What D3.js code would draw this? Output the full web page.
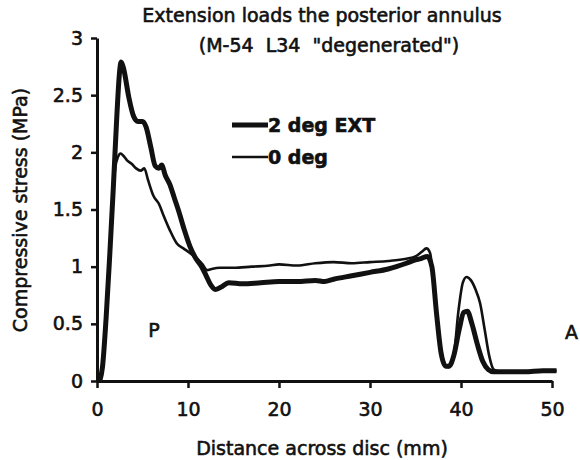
<!DOCTYPE html>
<html>
<head>
<meta charset="utf-8">
<script src="https://cdn.jsdelivr.net/npm/d3@7"></script>
<style>
  body { margin: 0; background: #fff; }
  svg { display: block; }
  text { font-family: "DejaVu Sans", Arial, sans-serif; fill: #111; stroke: #111; stroke-width: 0.6px; white-space: pre; }
</style>
</head>
<body>
<svg id="chart"></svg>
<script>
const width = 580, height = 460

// traced values, distance (mm) vs compressive stress (MPa)
const extDist   = [0.3, 0.6, 1.0, 1.4, 1.8, 2.2, 2.5, 2.65, 2.9, 3.5, 4.0, 4.5, 5.0, 5.4, 5.9, 6.4, 6.8, 7.1, 7.5, 8.0, 8.5, 9.0, 9.6, 10.2, 10.8, 11.5, 12.0, 12.5, 13.0, 13.6, 14.5, 16, 18, 20, 22, 24, 25, 26, 28, 30, 32, 34, 35, 35.6, 36.3, 36.8, 37.3, 37.8, 38.3, 38.7, 39.2, 39.8, 40.3, 40.7, 41.2, 41.8, 42.4, 43.0, 43.6, 45, 47, 49, 50.5]
const extStress = [0.0, 0.12, 0.55, 1.1, 1.7, 2.35, 2.72, 2.79, 2.74, 2.48, 2.32, 2.27, 2.27, 2.22, 2.05, 1.88, 1.86, 1.89, 1.80, 1.72, 1.60, 1.48, 1.32, 1.18, 1.08, 1.0, 0.92, 0.84, 0.80, 0.82, 0.86, 0.85, 0.86, 0.87, 0.87, 0.88, 0.87, 0.89, 0.92, 0.95, 0.98, 1.03, 1.06, 1.07, 1.09, 1.0, 0.6, 0.25, 0.13, 0.13, 0.22, 0.45, 0.60, 0.61, 0.50, 0.32, 0.17, 0.10, 0.08, 0.08, 0.08, 0.09, 0.09]

const zeroDist   = [0.3, 0.6, 1.0, 1.4, 1.75, 2.0, 2.3, 2.6, 2.9, 3.3, 3.8, 4.3, 4.8, 5.2, 5.6, 6.2, 6.8, 7.3, 8.0, 8.8, 9.5, 10.2, 11.0, 11.6, 12.1, 12.6, 13.5, 15, 17, 19, 20, 22, 24, 26, 28, 30, 32, 34, 35, 35.7, 36.2, 36.6, 37.0, 37.5, 38.0, 38.6, 39.2, 39.7, 40.2, 40.6, 41.1, 41.6, 42.1, 42.6, 43.1, 43.6, 44.5, 46, 48, 50.5]
const zeroStress = [0.0, 0.12, 0.55, 1.1, 1.62, 1.86, 1.96, 1.99, 1.97, 1.93, 1.90, 1.86, 1.84, 1.86, 1.76, 1.62, 1.55, 1.45, 1.32, 1.20, 1.16, 1.12, 1.07, 1.02, 0.97, 0.98, 0.99, 0.99, 1.0, 1.01, 1.02, 1.01, 1.03, 1.04, 1.03, 1.04, 1.05, 1.07, 1.09, 1.13, 1.16, 1.12, 0.85, 0.45, 0.20, 0.12, 0.22, 0.60, 0.86, 0.91, 0.88, 0.80, 0.68, 0.45, 0.22, 0.10, 0.08, 0.08, 0.09, 0.09]

const xTicks = [0, 10, 20, 30, 40, 50]
const yTicks = [0, 0.5, 1, 1.5, 2, 2.5, 3]
const yTickLabels = ["0", "0.5", "1", "1.5", "2", "2.5", "3"]
const seriesNames = ["2 deg EXT", "0 deg"]

const svg = d3.select("#chart").attr("width", width).attr("height", height)

const x = d3.scaleLinear().domain([0, 50]).range([97, 552])
const y = d3.scaleLinear().domain([0, 3]).range([381, 38])

// title
const title = svg.append("g").style("font-size", "19px").style("text-anchor", "middle")
title.append("text").attr("x", 322).attr("y", 22).text("Extension loads the posterior annulus")
title.append("text").attr("x", 329).attr("y", 52).text('(M-54  L34  "degenerated")')

// axes
const xAxis = d3.axisBottom(x).tickValues(xTicks).tickSize(7).tickSizeOuter(0).tickPadding(15)
const yAxis = d3.axisLeft(y).tickValues(yTicks).tickSize(6).tickSizeOuter(0).tickPadding(8)
  .tickFormat((d, i) => yTickLabels[i])

const gx = svg.append("g").attr("transform", `translate(0,${y(0)})`).call(xAxis)
const gy = svg.append("g").attr("transform", `translate(${x(0)},0)`).call(yAxis)

for (const g of [gx, gy]) {
  g.select(".domain").attr("stroke", "#111").attr("stroke-width", 3)
  g.selectAll(".tick line").attr("stroke", "#111").attr("stroke-width", 2.5)
  g.selectAll(".tick text").style("font-size", "19px").style("font-family", '"DejaVu Sans", Arial, sans-serif').attr("fill", "#111")
}

// axis labels
svg.append("text")
  .attr("x", 322).attr("y", 455)
  .style("text-anchor", "middle").style("font-size", "19px")
  .text("Distance across disc (mm)")
svg.append("text")
  .attr("transform", "translate(27,210) rotate(-90)")
  .style("text-anchor", "middle").style("font-size", "19px")
  .text("Compressive stress (MPa)")

// curves
const line = d3.line()
  .x(d => x(d[0]))
  .y(d => y(d[1]))
  .curve(d3.curveMonotoneX)

const zeroData = d3.zip(zeroDist, zeroStress)
const extData = d3.zip(extDist, extStress)

svg.append("path").datum(zeroData)
  .attr("d", line).attr("fill", "none")
  .attr("stroke", "#111").attr("stroke-width", 2.6).attr("stroke-linejoin", "round")
svg.append("path").datum(extData)
  .attr("d", line).attr("fill", "none")
  .attr("stroke", "#111").attr("stroke-width", 5).attr("stroke-linejoin", "round")

// legend
const legend = svg.append("g")
const legendWidths = [5, 2.6]
const legendY = [125, 157]
seriesNames.forEach((name, i) => {
  legend.append("line")
    .attr("x1", 232).attr("x2", 268)
    .attr("y1", legendY[i]).attr("y2", legendY[i])
    .attr("stroke", "#111").attr("stroke-width", legendWidths[i])
  legend.append("text")
    .attr("x", 268).attr("y", legendY[i]).attr("dy", "0.36em")
    .style("font-size", "19px").style("font-weight", "bold")
    .text(name)
})

// P / A markers
svg.append("text").attr("x", 154).attr("y", 337).style("text-anchor", "middle").style("font-size", "19px").text("P")
svg.append("text").attr("x", 565).attr("y", 339).style("font-size", "19px").text("A")
</script>
</body>
</html>
